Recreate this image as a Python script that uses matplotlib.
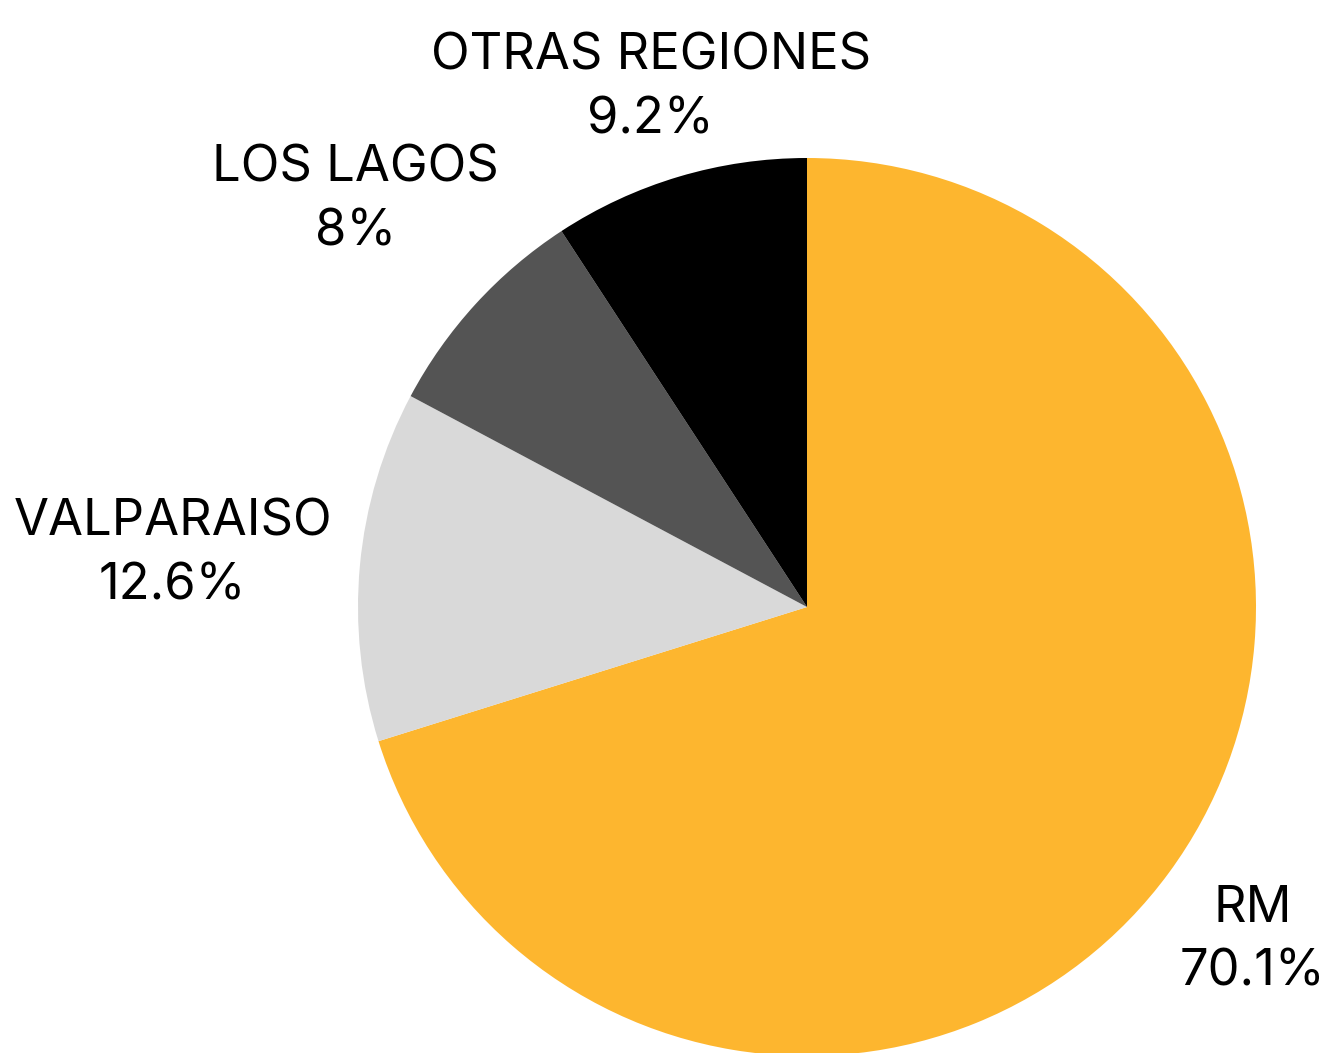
import numpy as np
import matplotlib
matplotlib.use("Agg")
import matplotlib.pyplot as plt
import matplotlib.transforms as mtransforms

labels = ["RM", "VALPARAISO", "LOS LAGOS", "OTRAS REGIONES"]
values = [70.1, 12.6, 8.0, 9.2]
pct_labels = ["70.1%", "12.6%", "8%", "9.2%"]
colors = ["#FDB62F", "#D9D9D9", "#545454", "#000000"]
label_dist = [1.232, 1.419, 1.363, 1.220]

plt.rcParams['font.family'] = ['Inter', 'DejaVu Sans']

fig = plt.figure(figsize=(13.29, 10.53), dpi=100)
ax = fig.add_axes([0, 0, 1, 1])
wedges, _ = ax.pie(values, colors=colors, startangle=90, counterclock=False,
                   radius=1.0, center=(0, 0), wedgeprops=dict(linewidth=0))

shift = mtransforms.ScaledTranslation(0, -6 / 100, fig.dpi_scale_trans)
for w, lab, pct, d in zip(wedges, labels, pct_labels, label_dist):
    ang = np.deg2rad((w.theta1 + w.theta2) / 2)
    ax.text(d * np.cos(ang), d * np.sin(ang), f"{lab}\n{pct}",
            ha='center', va='center', fontsize=36.5, color='black',
            linespacing=1.45, transform=ax.transData + shift)

ax.set_xlim(-807 / 449, (1329 - 807) / 449)
ax.set_ylim(-(1053 - 607) / 449, 607 / 449)
ax.set_aspect('equal')
ax.axis('off')
fig.savefig("out.png", dpi=100)
